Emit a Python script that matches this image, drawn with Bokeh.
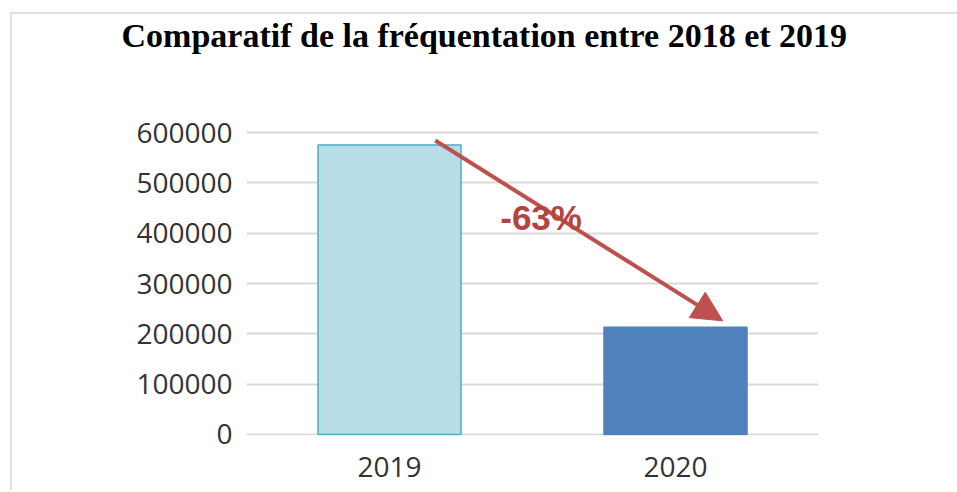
from bokeh.plotting import figure
from bokeh.models import (Range1d, FixedTicker, BasicTickFormatter, Arrow, NormalHead, Label, Title)
from bokeh.embed import file_html
from bokeh.resources import INLINE

categories = ["2019", "2020"]
visitors = [575000, 213000]
bar_fills = ["#b7dde6", "#4f81bd"]
bar_lines = ["#4bacc6", "#4f81bd"]
y_ticks = [0, 100000, 200000, 300000, 400000, 500000, 600000]
change_label = "-63%"
title_text = "Comparatif de la fréquentation entre 2018 et 2019"

xs = [i + 0.5 for i in range(len(categories))]

p = figure(output_backend="svg", toolbar_location=None,
           frame_width=572, frame_height=305,
           min_border_left=234, min_border_right=139, min_border_top=116, min_border_bottom=55,
           x_range=Range1d(0, len(categories)), y_range=Range1d(-2000, 604000),
           tools="")

p.vbar(x=xs, top=visitors, width=0.5, fill_color=bar_fills, line_color=bar_lines, line_width=1.5)

# spacer between the frame and the title
p.add_layout(Title(text=" ", text_font_size="1px", standoff=74), "above")

p.title.text = title_text
p.title.align = "left"
p.title.offset = -125
p.title.text_font = "Liberation Serif"
p.title.text_font_style = "bold"
p.title.text_font_size = "34px"
p.title.text_color = "#000000"
p.title.standoff = 0

p.xgrid.visible = False
p.ygrid.grid_line_color = "#d9d9d9"
p.ygrid.grid_line_width = 2
p.outline_line_color = None

p.yaxis.ticker = FixedTicker(ticks=y_ticks)
p.yaxis.formatter = BasicTickFormatter(use_scientific=False)
p.xaxis.ticker = FixedTicker(ticks=xs)
p.xaxis.major_label_overrides = {x: c for x, c in zip(xs, categories)}
for ax in (p.xaxis, p.yaxis):
    ax.axis_line_color = None
    ax.major_tick_line_color = None
    ax.minor_tick_line_color = None
    ax.major_label_text_font = "Open Sans"
    ax.major_label_text_font_size = "28px"
    ax.major_label_text_color = "#333333"
p.yaxis.major_label_standoff = 8
p.xaxis.major_label_standoff = 15

arrow = Arrow(x_start=xs[0] + 0.16, y_start=visitors[0] * 1.016,
              x_end=xs[1] + 0.165, y_end=visitors[1] * 1.06,
              line_color="#c0504d", line_width=4,
              end=NormalHead(size=30, fill_color="#c0504d", line_color="#c0504d"))
p.add_layout(arrow)

p.add_layout(Label(x=(xs[0] + xs[1]) / 2 + 0.03, y=(visitors[0] + visitors[1]) / 2 + 38000,
                   text=change_label, text_font="Liberation Sans", text_font_style="bold",
                   text_font_size="35px", text_color="#b5443f",
                   text_align="center", text_baseline="middle"))

p.styles = {"border-left": "2px solid #e0e0e0", "border-top": "2px solid #e0e0e0",
            "margin-left": "10px", "margin-top": "12px"}

open("out.html", "w").write(file_html(p, INLINE))
